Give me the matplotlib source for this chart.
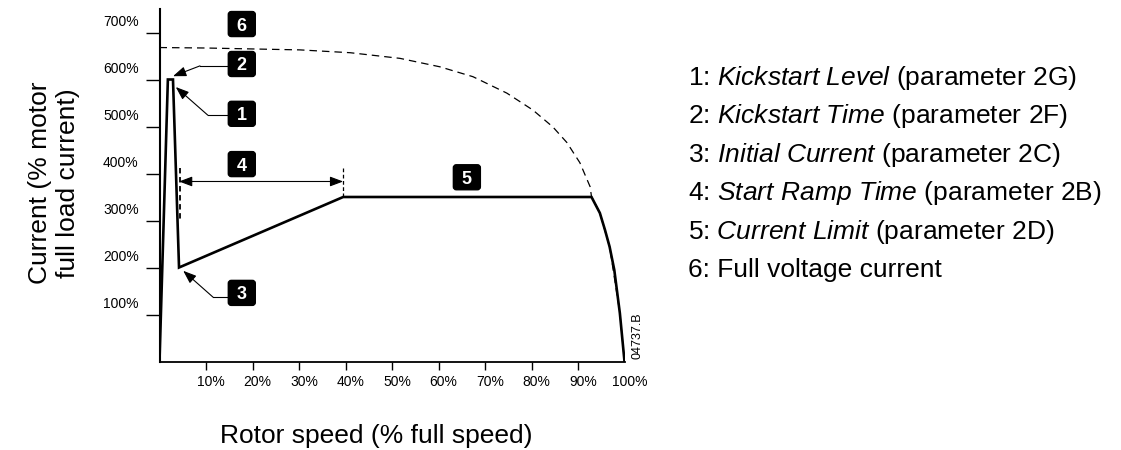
import matplotlib
matplotlib.use('Agg')
import matplotlib.pyplot as plt
from matplotlib.patches import FancyBboxPatch
from matplotlib.transforms import ScaledTranslation, IdentityTransform

plt.rcParams['font.family'] = ['Liberation Sans', 'DejaVu Sans']
plt.rcParams['mathtext.fontset'] = 'custom'
plt.rcParams['mathtext.rm'] = 'Liberation Sans'
plt.rcParams['mathtext.it'] = 'Liberation Sans:italic'

# soft start current profile (% speed, % FLC)
speed = [0, 1.8, 2.9, 4.2, 39.5, 92.9, 94.7, 95.8, 96.8, 97.8, 99.0, 100]
current = [0, 600, 600, 200, 350, 350, 316, 280, 244, 195, 103, 0]

# full voltage (DOL) current
speed_fv = [0, 10, 20, 30.2, 41.0, 51.7, 60.3, 67.4, 74.7, 80.3, 84.6, 87.6, 90.4, 92.6,
            92.9, 94.7, 96.8, 99.0, 100]
current_fv = [668, 667, 665, 663, 657, 645, 627, 606, 571, 535, 499, 466, 423, 372,
              351, 316, 244, 103, 0]

x_ticks = [10, 20, 30, 40, 50, 60, 70, 80, 90, 100]
x_labels = ['10%', '20%', '30%', '40%', '50%', '60%', '70%', '80%', '90%', '100%']
y_ticks = [100, 200, 300, 400, 500, 600, 700]
y_labels = ['100%', '200%', '300%', '400%', '500%', '600%', '700%']

legend_lines = [
    '1: $\\mathit{Kickstart\\ Level}$ (parameter 2G)',
    '2: $\\mathit{Kickstart\\ Time}$ (parameter 2F)',
    '3: $\\mathit{Initial\\ Current}$ (parameter 2C)',
    '4: $\\mathit{Start\\ Ramp\\ Time}$ (parameter 2B)',
    '5: $\\mathit{Current\\ Limit}$ (parameter 2D)',
    '6: Full voltage current',
]

fig = plt.figure(figsize=(11.21, 4.5), dpi=100)
ax = fig.add_axes([159.5 / 1121, 88.5 / 450, 465 / 1121, 352.5 / 450])

ax.plot(speed_fv, current_fv, color='black', lw=0.9, ls=(0, (6, 4)))
ax.plot(speed, current, color='black', lw=1.9, solid_joinstyle='miter')

ax.set_xlim(0, 100)
ax.set_ylim(0, 750)
for s in ['top', 'right']:
    ax.spines[s].set_visible(False)
ax.spines['left'].set_linewidth(1.5)
ax.spines['bottom'].set_linewidth(1.3)

ax.set_xticks(x_ticks)
ax.set_xticklabels(x_labels)
ax.set_yticks(y_ticks)
ax.set_yticklabels(y_labels)
ax.tick_params(axis='x', length=6, width=1, pad=4, labelsize=10)
ax.tick_params(axis='y', length=10, width=1, pad=5, labelsize=10)
ax.xaxis.get_major_ticks()[-1].tick1line.set_visible(False)
for lab in ax.get_xticklabels():
    lab.set_transform(lab.get_transform() + ScaledTranslation(0.05, 0, fig.dpi_scale_trans))
for lab in ax.get_yticklabels():
    lab.set_transform(lab.get_transform() + ScaledTranslation(0, 0.12, fig.dpi_scale_trans))


def number_box(x, y, label):
    cx, cy = ax.transData.transform((x, y))
    box = FancyBboxPatch((cx - 13.5, cy - 12.5), 27, 25,
                         boxstyle='round,pad=0,rounding_size=3',
                         transform=IdentityTransform(), fc='black', ec='black', clip_on=False)
    ax.add_patch(box)
    ax.text(x, y, label, color='white', fontweight='bold', fontsize=13,
            ha='center', va='center_baseline')


def pointer(x0, elbow, tip):
    ax.plot([x0, elbow[0]], [elbow[1], elbow[1]], color='black', lw=0.8)
    ax.annotate('', xy=tip, xytext=elbow,
                arrowprops=dict(arrowstyle='-|>,head_length=0.8,head_width=0.3',
                                mutation_scale=10, lw=0.8, color='black',
                                shrinkA=0, shrinkB=0))


number_box(17.7, 718, '6')
number_box(17.7, 633, '2')
number_box(17.7, 527, '1')
number_box(17.7, 420, '4')
number_box(17.7, 146, '3')
number_box(66.1, 392, '5')

pointer(14.8, (8.7, 629), (2.9, 607))
pointer(14.8, (10.4, 524), (3.5, 584))
pointer(14.8, (11.5, 137), (5.1, 193))

# start ramp time span
ax.annotate('', xy=(4.2, 383), xytext=(39.5, 383),
            arrowprops=dict(arrowstyle='<|-|>,head_length=0.8,head_width=0.3',
                            mutation_scale=10, lw=0.8, color='black', shrinkA=0, shrinkB=0))
ax.plot([4.4, 4.4], [412, 297], color='black', lw=1.3, ls=(0, (3, 2)))
ax.plot([39.5, 39.5], [412, 350], color='black', lw=0.9, ls=(0, (3, 2)))

ax.text(102.9, 54, '04737.B', rotation=90, fontsize=9, ha='center', va='center', clip_on=False)

fig.text(54 / 1121, 1 - 183 / 450, 'Current (% motor\nfull load current)', rotation=90,
         fontsize=19, ha='center', va='center', linespacing=1.25)
fig.text(376 / 1121, 1 - 443 / 450, 'Rotor speed (% full speed)', fontsize=19,
         ha='center', va='baseline')

for i, line in enumerate(legend_lines):
    fig.text(688 / 1121, 1 - (85 + 38.4 * i) / 450, line, fontsize=19, va='baseline', ha='left')

fig.savefig('out.png', dpi=100)
